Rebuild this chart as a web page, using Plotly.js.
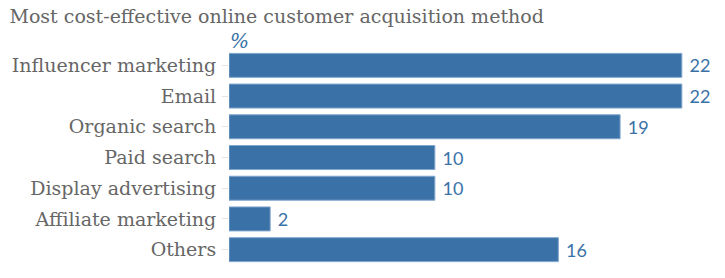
<!DOCTYPE html>
<html><head><meta charset="utf-8">
<script src="https://cdn.plot.ly/plotly-3.0.1.min.js"></script>
<style>body{margin:0;padding:0;background:#fff}#c{width:725px;height:278px}</style>
</head><body><div id="c"></div>
<script>
const categories = ["Influencer marketing","Email","Organic search","Paid search","Display advertising","Affiliate marketing","Others"];
const values = [22,22,19,10,10,2,16];
const titleText = "Most cost-effective online customer acquisition method";
const unitLabel = "%";

const blue = "#3a72a8";
const trace = {
  type: "bar", orientation: "h",
  x: values, y: categories,
  marker: {color: blue, line: {color: "#7fa6cc", width: 1}},
  text: values.map(v => " " + v), textposition: "outside",
  textfont: {family: "Lato, 'Open Sans', sans-serif", size: 18, color: blue},
  cliponaxis: false, hoverinfo: "none"
};
const layout = {
  width: 725, height: 278,
  margin: {l: 229, r: 2, t: 50, b: 13},
  paper_bgcolor: "#fff", plot_bgcolor: "#fff",
  bargap: 0.22,
  showlegend: false,
  title: {text: titleText, x: 0.013, xanchor: "left", y: 0.94, yanchor: "middle",
    font: {family: "'DejaVu Serif', serif", size: 19, color: "#666"}},
  xaxis: {range: [0, 24], showgrid: false, zeroline: false, showticklabels: false, ticks: "", fixedrange: true},
  yaxis: {autorange: "reversed", showgrid: false, zeroline: false, ticks: "outside", ticklen: 6, tickcolor: "#e4e4e4",
    tickfont: {family: "'DejaVu Serif', serif", size: 19, color: "#666"}, ticklabelstandoff: 2},
  annotations: [{text: "<i>" + unitLabel + "</i>", xref: "paper", yref: "paper", x: 0, y: 1, xanchor: "left", yanchor: "bottom",
    yshift: -5, xshift: -1, showarrow: false, font: {family: "'DejaVu Serif', serif", size: 20, color: blue}}]
};
Plotly.newPlot("c", [trace], layout, {displayModeBar: false, staticPlot: true});
</script></body></html>
